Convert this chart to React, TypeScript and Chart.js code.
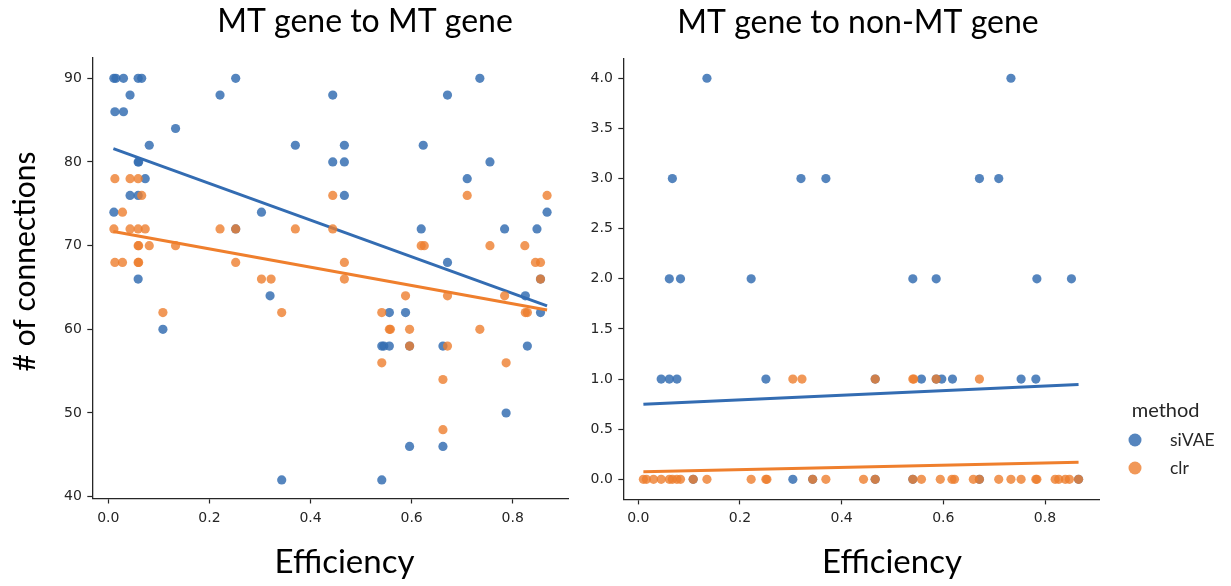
import React, { useEffect, useRef } from 'react';
import { Chart, registerables } from 'chart.js';

Chart.register(...registerables);

// ---------- tick labels ----------
const effTicks = [0, 0.2, 0.4, 0.6, 0.8];
const mtTicks = [40, 50, 60, 70, 80, 90];
const nonMtTicks = [0, 0.5, 1, 1.5, 2, 2.5, 3, 3.5, 4];

// ---------- panel 1: MT gene to MT gene ----------
const mtSivaeEff = [0.011, 0.015, 0.030, 0.059, 0.066, 0.043, 0.013, 0.030, 0.059, 0.060, 0.073, 0.081, 0.133, 0.043, 0.059, 0.011, 0.221, 0.252, 0.370, 0.303, 0.059, 0.108, 0.320, 0.343, 0.252,
  0.444, 0.671, 0.735, 0.467, 0.623, 0.444, 0.467, 0.755, 0.710, 0.467, 0.868, 0.619, 0.784, 0.848, 0.671, 0.855, 0.556, 0.588, 0.825, 0.855, 0.541, 0.545, 0.556, 0.596, 0.662, 0.829, 0.787, 0.596, 0.662, 0.541];
const mtSivaeConn = [90, 90, 90, 90, 90, 88, 86, 86, 80, 80, 78, 82, 84, 76, 76, 74, 88, 90, 82, 74, 66, 60, 64, 42, 72,
  88, 88, 90, 82, 82, 80, 80, 80, 78, 76, 74, 72, 72, 72, 68, 66, 62, 62, 64, 62, 58, 58, 58, 58, 58, 58, 50, 46, 46, 42];

const mtClrEff = [0.013, 0.043, 0.059, 0.066, 0.028, 0.011, 0.043, 0.059, 0.073, 0.059, 0.060, 0.081, 0.133, 0.013, 0.028, 0.059, 0.060, 0.221, 0.252, 0.252, 0.370, 0.303, 0.322, 0.108, 0.343,
  0.444, 0.710, 0.868, 0.444, 0.619, 0.625, 0.755, 0.824, 0.467, 0.845, 0.855, 0.467, 0.855, 0.588, 0.671, 0.784, 0.541, 0.825, 0.829, 0.556, 0.558, 0.596, 0.735, 0.596, 0.671, 0.541, 0.787, 0.662, 0.662];
const mtClrConn = [78, 78, 78, 76, 74, 72, 72, 72, 72, 70, 70, 70, 70, 68, 68, 68, 68, 72, 72, 68, 72, 66, 66, 62, 62,
  76, 76, 76, 72, 70, 70, 70, 70, 68, 68, 68, 66, 66, 64, 64, 64, 62, 62, 62, 60, 60, 60, 60, 58, 58, 56, 56, 54, 48];

const mtFitEff = [0.010, 0.868];
const mtFitSivae = [81.6, 62.8];
const mtFitClr = [71.7, 62.3];

// ---------- panel 2: MT gene to non-MT gene ----------
const nonSivaeEff = [0.135, 0.733, 0.067, 0.320, 0.369, 0.671, 0.709, 0.061, 0.083, 0.222, 0.540, 0.586, 0.784, 0.852,
  0.045, 0.061, 0.076, 0.251, 0.466, 0.557, 0.586, 0.597, 0.618, 0.753, 0.782,
  0.304, 0.108, 0.343, 0.466, 0.540, 0.671, 0.866];
const nonSivaeConn = [4, 4, 3, 3, 3, 3, 3, 2, 2, 2, 2, 2, 2, 2,
  1, 1, 1, 1, 1, 1, 1, 1, 1, 1, 1,
  0, 0, 0, 0, 0, 0, 0];

const nonClrEff = [0.304, 0.322, 0.466, 0.540, 0.542, 0.586, 0.671,
  0.010, 0.016, 0.030, 0.045, 0.061, 0.067, 0.076, 0.083, 0.108, 0.135, 0.222, 0.251, 0.253, 0.343, 0.369, 0.443, 0.466, 0.540, 0.557,
  0.594, 0.617, 0.622, 0.659, 0.671, 0.709, 0.733, 0.753, 0.782, 0.784, 0.820, 0.827, 0.840, 0.848, 0.866];
const nonClrConn = [1, 1, 1, 1, 1, 1, 1,
  0, 0, 0, 0, 0, 0, 0, 0, 0, 0, 0, 0, 0, 0, 0, 0, 0, 0, 0,
  0, 0, 0, 0, 0, 0, 0, 0, 0, 0, 0, 0, 0, 0, 0];

const nonFitEff = [0.010, 0.866];
const nonFitSivae = [0.748, 0.947];
const nonFitClr = [0.076, 0.170];

// ---------- styles ----------
const BLUE_PT = 'rgba(52,110,178,0.84)';
const BLUE_LINE = '#336CB2';
const ORANGE_PT = 'rgba(238,126,46,0.80)';
const ORANGE_LINE = '#EF7F2D';
const AXIS = '#262626';
const LABEL_FONT = 'Lato';

const pts = (xs: number[], ys: number[]) => xs.map((x, i) => ({ x, y: ys[i] }));

const textPlugin = {
  id: 'panelText',
  afterDraw(chart: any, _args: any, opts: any) {
    const ctx = chart.ctx;
    for (const m of opts.markers || []) {
      ctx.save();
      ctx.fillStyle = m.color;
      ctx.beginPath();
      ctx.arc(m.x, m.y, m.r, 0, Math.PI * 2);
      ctx.fill();
      ctx.restore();
    }
    for (const t of opts.items || []) {
      ctx.save();
      ctx.font = t.font;
      ctx.fillStyle = t.color || '#000';
      ctx.textAlign = t.align || 'center';
      ctx.textBaseline = 'alphabetic';
      ctx.translate(t.x, t.y);
      if (t.rotate) ctx.rotate(t.rotate);
      ctx.fillText(t.text, 0, 0);
      ctx.restore();
    }
  },
};

function makeConfig(p: any) {
  const tickFont = { family: 'DejaVu Sans', size: 14 };
  return {
    type: 'scatter',
    data: {
      datasets: [
        { label: 'siVAE', data: pts(p.sx, p.sy), backgroundColor: BLUE_PT, pointRadius: 4.6, borderWidth: 0, order: 4 },
        { label: 'siVAE fit', data: pts(p.fx, p.sFit), showLine: true, borderColor: BLUE_LINE, borderWidth: 3, pointRadius: 0, order: 3 },
        { label: 'clr', data: pts(p.cx, p.cy), backgroundColor: ORANGE_PT, pointRadius: 4.6, borderWidth: 0, order: 2 },
        { label: 'clr fit', data: pts(p.fx, p.cFit), showLine: true, borderColor: ORANGE_LINE, borderWidth: 3, pointRadius: 0, order: 1 },
      ],
    },
    options: {
      responsive: false,
      animation: false,
      events: [],
      layout: { padding: p.padding },
      plugins: {
        legend: { display: false },
        tooltip: { enabled: false },
        title: { display: false },
        panelText: { items: p.texts, markers: p.markers || [] },
      },
      scales: {
        x: {
          type: 'linear',
          min: p.xMin,
          max: p.xMax,
          afterFit: (s: any) => { s.height = p.xH; },
          afterBuildTicks: (s: any) => { s.ticks = effTicks.map((v) => ({ value: v })); },
          ticks: { callback: (v: number) => Number(v).toFixed(1), font: tickFont, color: AXIS, padding: 6, maxRotation: 0, autoSkip: false },
          grid: { drawOnChartArea: false, drawTicks: true, tickLength: 5, tickColor: AXIS, tickWidth: 1.2 },
          border: { display: true, color: AXIS, width: 1.3 },
        },
        y: {
          type: 'linear',
          min: p.yMin,
          max: p.yMax,
          afterFit: (s: any) => { s.width = p.yW; },
          afterBuildTicks: (s: any) => { s.ticks = p.yTicks.map((v: number) => ({ value: v })); },
          ticks: { callback: p.yFmt, font: tickFont, color: AXIS, padding: 5.5, autoSkip: false },
          grid: { drawOnChartArea: false, drawTicks: true, tickLength: 5, tickColor: AXIS, tickWidth: 1.2 },
          border: { display: true, color: AXIS, width: 1.3 },
        },
      },
    },
    plugins: [textPlugin],
  };
}

const leftConfig = makeConfig({
  sx: mtSivaeEff, sy: mtSivaeConn, cx: mtClrEff, cy: mtClrConn,
  fx: mtFitEff, sFit: mtFitSivae, cFit: mtFitClr,
  xMin: -0.0317, xMax: 0.9094, yMin: 39.78, yMax: 92.51,
  yTicks: mtTicks, yFmt: (v: number) => String(v),
  padding: { top: 57.3, right: 12, bottom: 0, left: 0 },
  xH: 87.5, yW: 92.3,
  texts: [
    { text: 'MT gene to MT gene', x: 365, y: 32, font: `32px ${LABEL_FONT}` },
    { text: 'Efficiency', x: 344.5, y: 573, font: `33px ${LABEL_FONT}` },
    { text: '# of connections', x: 35, y: 261.5, rotate: -Math.PI / 2, font: `30px ${LABEL_FONT}` },
  ],
});

const rightConfig = makeConfig({
  sx: nonSivaeEff, sy: nonSivaeConn, cx: nonClrEff, cy: nonClrConn,
  fx: nonFitEff, sFit: nonFitSivae, cFit: nonFitClr,
  xMin: -0.0295, xMax: 0.9074, yMin: -0.2, yMax: 4.2,
  yTicks: nonMtTicks, yFmt: (v: number) => Number(v).toFixed(1),
  padding: { top: 58.2, right: 131.4, bottom: 0, left: 0 },
  xH: 86.6, yW: 43.3,
  texts: [
    { text: 'MT gene to non-MT gene', x: 278, y: 33, font: `32px ${LABEL_FONT}` },
    { text: 'Efficiency', x: 312, y: 573, font: `33px ${LABEL_FONT}` },
    { text: 'method', x: 551.7, y: 417, align: 'left', font: `20px ${LABEL_FONT}`, color: '#262626' },
    { text: 'siVAE', x: 590, y: 446, align: 'left', font: `17.5px ${LABEL_FONT}`, color: '#262626' },
    { text: 'clr', x: 590, y: 474, align: 'left', font: `17.5px ${LABEL_FONT}`, color: '#262626' },
  ],
  markers: [
    { x: 555, y: 440, r: 6.5, color: BLUE_PT },
    { x: 555, y: 468, r: 6.5, color: ORANGE_PT },
  ],
});

export default function App() {
  const leftRef = useRef<HTMLCanvasElement>(null);
  const rightRef = useRef<HTMLCanvasElement>(null);

  useEffect(() => {
    const a = new Chart(leftRef.current as HTMLCanvasElement, leftConfig as any);
    const b = new Chart(rightRef.current as HTMLCanvasElement, rightConfig as any);
    return () => {
      a.destroy();
      b.destroy();
    };
  }, []);

  return (
    <div style={{ position: 'fixed', left: 0, top: 0, width: 1231, height: 586, background: '#fff', overflow: 'hidden' }}>
      <canvas ref={leftRef} width={580} height={586} style={{ position: 'absolute', left: 0, top: 0, width: 580, height: 586 }} />
      <canvas ref={rightRef} width={651} height={586} style={{ position: 'absolute', left: 580, top: 0, width: 651, height: 586 }} />
    </div>
  );
}
